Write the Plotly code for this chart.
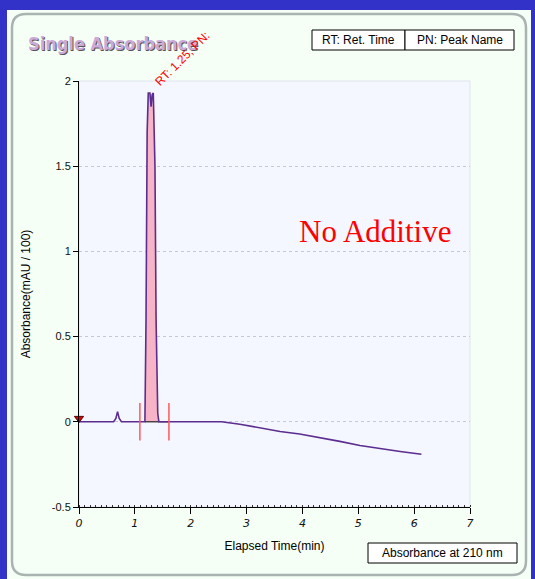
import plotly.graph_objects as go

# ---- data ----
time_min = [0.0, 0.1, 0.3, 0.5, 0.62, 0.66, 0.69, 0.72, 0.76, 0.9, 1.1, 1.18, 1.2, 1.22, 1.24, 1.27,
            1.29, 1.31, 1.33, 1.36, 1.38, 1.41, 1.43, 1.6, 2.0, 2.3, 2.55, 2.88, 3.24, 3.6, 3.95,
            4.31, 4.67, 5.03, 5.39, 5.75, 6.13]
absorbance = [0.0, 0.0, -0.003, 0.0, 0.0, 0.02, 0.06, 0.02, 0.0, 0.0, 0.0, 0.0, 0.6, 1.7, 1.93, 1.93,
              1.85, 1.92, 1.93, 1.5, 0.6, 0.05, 0.0, 0.0, 0.0, 0.0, 0.0, -0.014, -0.037, -0.057, -0.072,
              -0.092, -0.115, -0.139, -0.158, -0.174, -0.19]
peak_time = [1.18, 1.2, 1.22, 1.24, 1.27, 1.29, 1.31, 1.33, 1.36, 1.38, 1.41, 1.43]
peak_abs = [0.0, 0.6, 1.7, 1.93, 1.93, 1.85, 1.92, 1.93, 1.5, 0.6, 0.05, 0.0]
peak_bounds = [1.09, 1.61]
baseline_x = [1.18, 1.61]
baseline_y = [0.0, 0.0]
start_marker = [0.0, 0.02]
peak_label = "RT: 1.25, PN:"

x_ticks = [0, 1, 2, 3, 4, 5, 6, 7]
y_ticks = [-0.5, 0, 0.5, 1, 1.5, 2]

BLUE = "#3232c8"
W, H = 535, 579
PX0, PX1 = 79, 470      # plot area in pixels
PY0, PY1 = 81, 507
L, T = PX0, PY0
R, B = W - PX1, H - PY1
PW, PH = PX1 - PX0, PY1 - PY0


def px(x):
    return (x - PX0) / PW


def py(y):
    return (PY1 - y) / PH


fig = go.Figure()

fig.add_trace(go.Scatter(x=peak_time, y=peak_abs, mode="lines", fill="tozeroy",
                         fillcolor="#f6b4c6", line=dict(color="rgba(0,0,0,0)", width=0),
                         hoverinfo="skip", showlegend=False))
fig.add_trace(go.Scatter(x=baseline_x, y=baseline_y, mode="lines",
                         line=dict(color="#222222", width=1.2), showlegend=False))
fig.add_trace(go.Scatter(x=time_min, y=absorbance, mode="lines",
                         line=dict(color="#5b2d90", width=1.6), showlegend=False))
for b in peak_bounds:
    fig.add_trace(go.Scatter(x=[b, b], y=[0.11, -0.11], mode="lines",
                             line=dict(color="#ff5a5a", width=1.5), showlegend=False))
fig.add_trace(go.Scatter(x=[start_marker[0]], y=[start_marker[1]], mode="markers",
                         marker=dict(symbol="triangle-down", color="#e00000", size=8,
                                     line=dict(color="#600000", width=1)),
                         showlegend=False, cliponaxis=False))

shapes = []
shapes.append(dict(type="rect", xref="paper", yref="paper", x0=px(7), x1=px(531),
                   y0=py(579), y1=py(10), fillcolor="#f5fff5", line=dict(width=0),
                   layer="below"))
x0, y0, x1, y1, r = 12, 14, 526, 575, 14


def P(x, y):
    return f"{px(x):.5f},{py(y):.5f}"


path = (f"M {P(x0 + r, y0)} L {P(x1 - r, y0)} Q {P(x1, y0)} {P(x1, y0 + r)} "
        f"L {P(x1, y1 - r)} Q {P(x1, y1)} {P(x1 - r, y1)} L {P(x0 + r, y1)} "
        f"Q {P(x0, y1)} {P(x0, y1 - r)} L {P(x0, y0 + r)} Q {P(x0, y0)} {P(x0 + r, y0)} Z")
shapes.append(dict(type="path", xref="paper", yref="paper", path=path,
                   fillcolor="#f5fff5", line=dict(color="#a9b3b2", width=2.5), layer="below"))
shapes.append(dict(type="rect", xref="paper", yref="paper", x0=0, y0=0, x1=1, y1=1,
                   fillcolor="#f4f7ff", line=dict(color="#dde3ee", width=1), layer="below"))
for (a, b) in [(312, 405), (405, 514)]:
    shapes.append(dict(type="rect", xref="paper", yref="paper", x0=px(a), x1=px(b),
                       y0=py(50), y1=py(30), line=dict(color="#000000", width=1),
                       fillcolor="#ffffff"))
shapes.append(dict(type="rect", xref="paper", yref="paper", x0=px(368), x1=px(517),
                   y0=py(563), y1=py(543), line=dict(color="#000000", width=1),
                   fillcolor="#ffffff"))

annotations = [
    dict(text="<b>Single Absorbance</b>", xref="paper", yref="paper", x=px(26), y=py(44),
         xanchor="left", yanchor="middle", showarrow=False,
         font=dict(family="DejaVu Sans Condensed, Liberation Sans Narrow, Arial", size=18,
                   color="#ccaad8", shadow="1px 1px 0px #555555")),
    dict(text="RT: Ret. Time", xref="paper", yref="paper", x=px(358.5), y=py(40),
         xanchor="center", yanchor="middle", showarrow=False,
         font=dict(family="Liberation Sans, Arial", size=12, color="#000000")),
    dict(text="PN: Peak Name", xref="paper", yref="paper", x=px(459.5), y=py(40),
         xanchor="center", yanchor="middle", showarrow=False,
         font=dict(family="Liberation Sans, Arial", size=12, color="#000000")),
    dict(text="Absorbance at 210 nm", xref="paper", yref="paper", x=px(442.5), y=py(553),
         xanchor="center", yanchor="middle", showarrow=False,
         font=dict(family="Liberation Sans, Arial", size=12, color="#000000")),
    dict(text=peak_label, xref="paper", yref="paper", x=px(182), y=py(59), showarrow=False,
         textangle=-45, xanchor="center", yanchor="middle",
         font=dict(family="Liberation Sans, Arial", size=12, color="#ff0000")),
    dict(text="No Additive", x=5.3, y=1.115, xref="x", yref="y", showarrow=False,
         font=dict(family="Liberation Serif, Times New Roman", size=31, color="#ff0000")),
]

fig.update_layout(
    width=W, height=H, margin=dict(l=L, r=R, t=T, b=B),
    paper_bgcolor=BLUE, plot_bgcolor="rgba(0,0,0,0)",
    shapes=shapes, annotations=annotations, showlegend=False,
    xaxis=dict(range=[0, 7], tickvals=x_ticks, ticktext=[str(v) for v in x_ticks],
               showgrid=False, zeroline=False, showline=True, linecolor="#000000",
               ticks="outside", ticklen=6, tickcolor="#000000",
               tickfont=dict(family="DejaVu Sans, Verdana", size=11, color="#111111",
                             style="italic"),
               minor=dict(dtick=0.1, ticks="inside", ticklen=2, tickcolor="#333333"),
               title=dict(text="Elapsed Time(min)", standoff=12,
                          font=dict(family="Liberation Sans, Arial", size=12, color="#000000"))),
    yaxis=dict(range=[-0.5, 2], tickvals=y_ticks, ticktext=["-0.5", "0", "0.5", "1", "1.5", "2"],
               showgrid=True, gridcolor="#c4c8d2", griddash="dot", gridwidth=1,
               zeroline=False, showline=True, linecolor="#000000",
               ticks="outside", ticklen=5, tickcolor="#000000",
               tickfont=dict(family="Liberation Sans, Arial", size=11, color="#111111"),
               title=dict(text="Absorbance(mAU / 100)", standoff=18,
                          font=dict(family="Liberation Sans, Arial", size=12, color="#000000"))),
)

fig.write_html("out.html", config={"displayModeBar": False},
               post_script=f"document.body.style.margin='0';document.body.style.background='{BLUE}';")
